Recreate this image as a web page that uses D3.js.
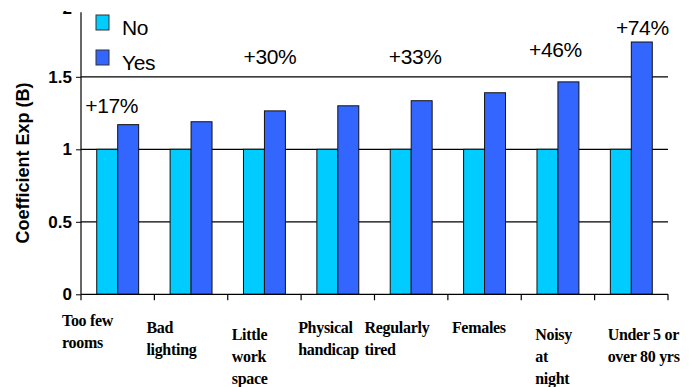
<html>
<head>
  <script src="https://d3js.org/d3.v7.min.js"></script>
  <style>
    body { margin: 0; background: #fff; }
    svg { display: block; }
    .tick-label { font-family: "Liberation Sans", Arial, sans-serif; font-weight: bold; font-size: 17px; }
    .cat-label { font-family: "Liberation Serif", "Times New Roman", serif; font-weight: bold; font-size: 16px; letter-spacing: -0.3px; }
    .big { font-family: "Liberation Sans", Arial, sans-serif; font-size: 21px; letter-spacing: -0.4px; }
  </style>
</head>
<body>
<script>
  // data
  var categories = ["Too few rooms", "Bad lighting", "Little work space", "Physical handicap",
                    "Regularly tired", "Females", "Noisy at night", "Under 5 or over 80 yrs"];
  var categoryLines = [["Too few", "rooms"], ["Bad", "lighting"], ["Little", "work", "space"],
                       ["Physical", "handicap"], ["Regularly", "tired"], ["Females"],
                       ["Noisy", "at", "night"], ["Under 5 or", "over 80 yrs"]];
  var series = ["No", "Yes"];
  var noValues  = [1, 1, 1, 1, 1, 1, 1, 1];
  var yesValues = [1.17, 1.19, 1.265, 1.30, 1.335, 1.39, 1.465, 1.74];
  var yTicks = [0, 0.5, 1, 1.5, 2];
  var gridValues = [0.5, 1, 1.5];
  var noteCats = ["Too few rooms", "Little work space", "Regularly tired", "Noisy at night", "Under 5 or over 80 yrs"];
  var noteTexts = ["+17%", "+30%", "+33%", "+46%", "+74%"];

  // hand placed text boxes (layout only)
  var labelDx = [-19, -8, 4, -3, -10, 4, 14, 13];
  var labelDy = [32, 39, 46, 39, 39, 39, 46, 46];
  var noteDx = [-6, 5.5, 4, -2.5, 11];
  var noteBase = [113, 64, 64, 57, 35];

  var colors = { No: "#00ccff", Yes: "#3366ff" };
  var width = 700, height = 387;
  var plotLeft = 81, plotRight = 668, plotBottom = 294.3, plotTop = 4.3;

  var svg = d3.select("body").append("svg")
      .attr("width", width).attr("height", height);

  var x = d3.scaleBand().domain(categories).range([plotLeft, plotRight]).padding(0);
  var x1 = d3.scaleBand().domain(series).range([0, x.bandwidth()]).paddingInner(0).paddingOuter(0.75);
  var y = d3.scaleLinear().domain([0, 2]).range([plotBottom, plotTop]);

  // the original picture is cropped just under the top tick label;
  // this clip lives in the tick's own coordinates
  svg.append("clipPath").attr("id", "cropTop")
    .append("rect").attr("x", -width).attr("y", 10.5 - y(2))
    .attr("width", width * 3).attr("height", height);

  // grid
  svg.selectAll(".grid").data(gridValues).enter().append("line")
    .attr("x1", plotLeft).attr("x2", plotRight)
    .attr("y1", d => y(d)).attr("y2", d => y(d))
    .attr("stroke", "#000").attr("stroke-width", 1.2);

  // bars
  var rows = categories.map(function(c, i) {
    return { cat: c, vals: [{ s: "No", v: noValues[i] }, { s: "Yes", v: yesValues[i] }] };
  });
  var groups = svg.selectAll(".grp").data(rows).enter().append("g")
    .attr("transform", d => "translate(" + x(d.cat) + ",0)");
  groups.selectAll("rect").data(d => d.vals).enter().append("rect")
    .attr("x", d => x1(d.s))
    .attr("width", x1.bandwidth())
    .attr("y", d => y(d.v))
    .attr("height", d => y(0) - y(d.v))
    .attr("fill", d => colors[d.s])
    .attr("stroke", "#111").attr("stroke-width", 1);

  // y axis
  var yAxis = svg.append("g").attr("transform", "translate(" + plotLeft + ",0)")
    .call(d3.axisLeft(y).tickValues(yTicks).tickSize(5).tickPadding(4).tickFormat(d => d));
  yAxis.select(".domain").remove();
  yAxis.selectAll(".tick line").attr("stroke", "#000").filter(d => d === 2).remove();
  yAxis.selectAll(".tick text").attr("class", "tick-label").attr("fill", "#000");
  yAxis.selectAll(".tick").filter(d => d === 2).attr("clip-path", "url(#cropTop)")
    .select("text").attr("dy", "0.52em");
  svg.append("line").attr("x1", plotLeft).attr("x2", plotLeft)
    .attr("y1", y(1.945)).attr("y2", plotBottom).attr("stroke", "#000").attr("stroke-width", 1.2);

  // x axis
  svg.append("line").attr("x1", plotLeft).attr("x2", plotRight)
    .attr("y1", plotBottom).attr("y2", plotBottom).attr("stroke", "#000").attr("stroke-width", 1.2);
  var bounds = categories.map(c => x(c)).concat([plotRight]);
  svg.selectAll(".xt").data(bounds).enter().append("line")
    .attr("x1", d => d).attr("x2", d => d)
    .attr("y1", plotBottom).attr("y2", plotBottom + 6)
    .attr("stroke", "#000").attr("stroke-width", 1.2);

  // category labels
  categories.forEach(function(c, i) {
    var t = svg.append("text").attr("class", "cat-label")
      .attr("x", x(c) + labelDx[i]).attr("y", plotBottom + labelDy[i]);
    categoryLines[i].forEach(function(line, j) {
      t.append("tspan").attr("x", x(c) + labelDx[i]).attr("dy", j === 0 ? 0 : 22).text(line);
    });
  });

  // percent notes
  noteCats.forEach(function(c, i) {
    svg.append("text").attr("class", "big")
      .attr("x", x(c) + x.bandwidth() / 2 + noteDx[i])
      .attr("y", noteBase[i])
      .attr("text-anchor", "middle")
      .text(noteTexts[i]);
  });

  // legend
  series.forEach(function(s, i) {
    svg.append("rect").attr("x", 96).attr("y", 15 + i * 35)
      .attr("width", 13).attr("height", 15)
      .attr("fill", colors[s]).attr("stroke", "#333").attr("stroke-width", 1);
    svg.append("text").attr("class", "big")
      .attr("x", 122).attr("y", 35 + i * 35).text(s);
  });

  // y title
  svg.append("text")
    .attr("transform", "translate(29,163) rotate(-90)")
    .attr("text-anchor", "middle")
    .style("font-family", "'Liberation Sans', Arial, sans-serif")
    .style("font-weight", "bold").style("font-size", "18px")
    .text("Coefficient Exp (B)");
</script>
</body>
</html>
